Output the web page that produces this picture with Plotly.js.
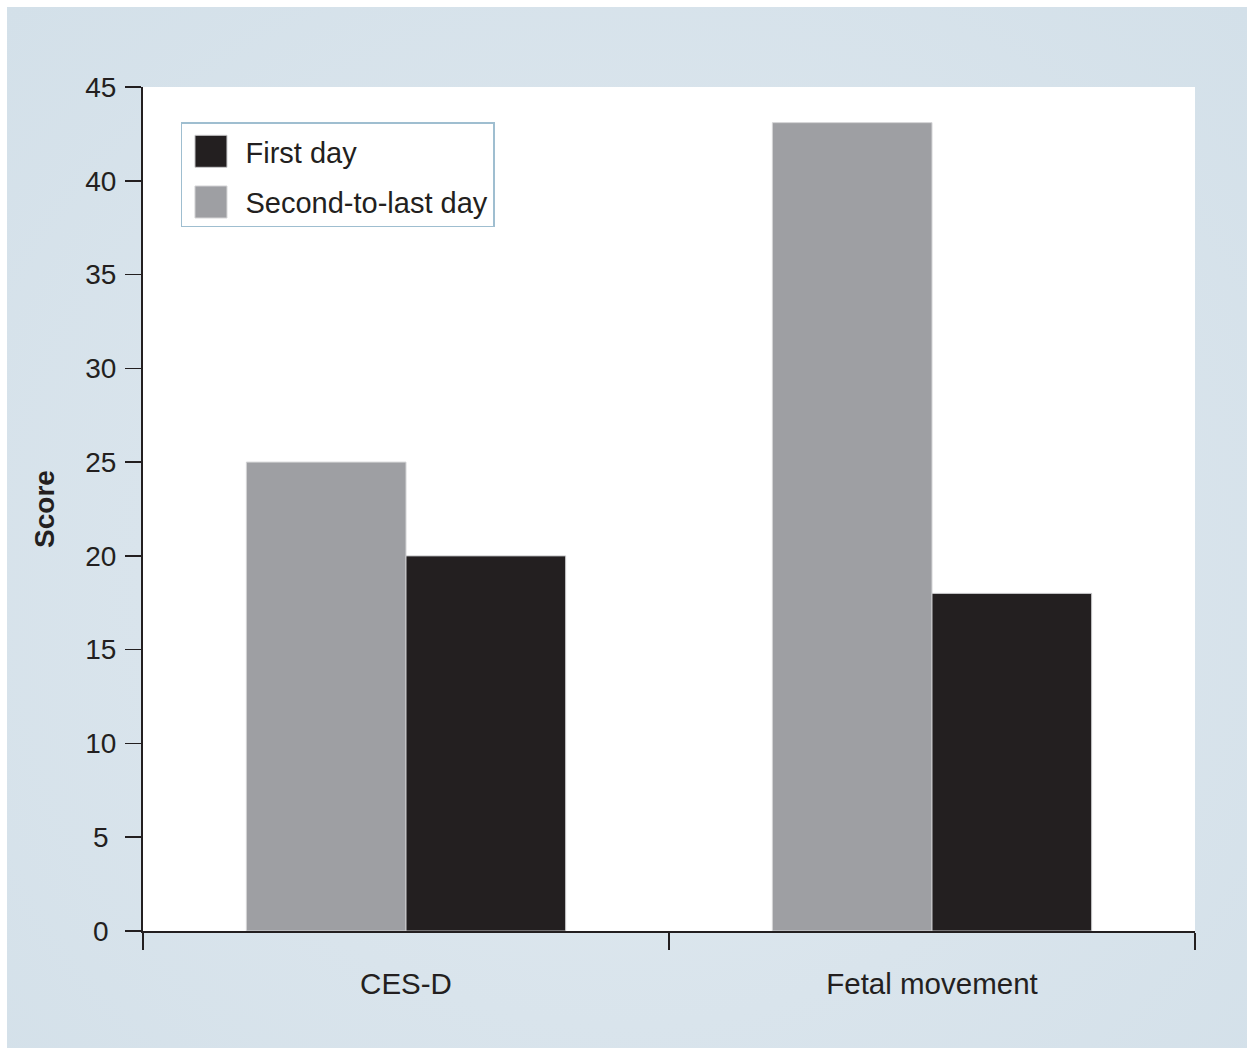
<!DOCTYPE html>
<html>
<head>
<meta charset="utf-8">
<script src="https://cdn.plot.ly/plotly-3.0.1.min.js"></script>
<style>
  html, body { margin: 0; padding: 0; background: #ffffff; }
  #chart {
    position: absolute; left: 7px; top: 7px; width: 1240px; height: 1041px;
    background: radial-gradient(ellipse at 50% 55%, #e1eaf0 0%, #d9e4ec 55%, #d3e0e9 100%);
  }
</style>
</head>
<body>
<div id="chart"></div>
<script>
const categories = ["CES-D", "Fetal movement"];
const seriesNames = ["Second-to-last day", "First day"];
const secondToLastDay = [25, 43.1];
const firstDay = [20, 18];
const yTicks = [0, 5, 10, 15, 20, 25, 30, 35, 40, 45];
const yTickText = ["0\u2008", "5\u2008", "10", "15", "20", "25", "30", "35", "40", "45"];

const ink = "#231f20";
const grayBar = "#9e9fa3";

const traces = [
  {
    type: "bar", name: seriesNames[0], x: categories, y: secondToLastDay,
    marker: { color: grayBar, line: { color: "#d4d4d6", width: 1 } },
    legendgroup: "b", legendrank: 2, hoverinfo: "x+y+name"
  },
  {
    type: "bar", name: seriesNames[1], x: categories, y: firstDay,
    marker: { color: ink, line: { color: "#c8c8ca", width: 1 } },
    legendgroup: "a", legendrank: 1, hoverinfo: "x+y+name"
  }
];

const layout = {
  width: 1240, height: 1041,
  margin: { l: 136, r: 52, t: 80, b: 117, pad: 0 },
  paper_bgcolor: "rgba(0,0,0,0)",
  plot_bgcolor: "#ffffff",
  font: { family: "Liberation Sans, Arial, Helvetica, sans-serif", color: ink },
  barmode: "group",
  bargap: 0.393,
  bargroupgap: 0,
  showlegend: true,
  legend: {
    x: 0.0361, y: 0.958, xanchor: "left", yanchor: "top",
    bgcolor: "#ffffff", bordercolor: "#9fbed0", borderwidth: 1.5,
    font: { size: 29, color: ink },
    traceorder: "grouped", tracegroupgap: 10,
    itemwidth: 53
  },
  xaxis: {
    type: "category",
    tickson: "boundaries",
    ticks: "outside", ticklen: 17, tickwidth: 1.5, tickcolor: ink,
    showline: true, linecolor: ink, linewidth: 2,
    showgrid: false, zeroline: false,
    tickfont: { size: 29.5, color: ink },
    ticklabelstandoff: 26
  },
  yaxis: {
    range: [0, 45], tickvals: yTicks, ticktext: yTickText,
    ticks: "outside", ticklen: 16, tickwidth: 1.5, tickcolor: ink,
    showline: true, linecolor: ink, linewidth: 2,
    showgrid: false, zeroline: false,
    tickfont: { size: 28, color: ink },
    ticklabelstandoff: 3,
    title: { text: "<b>Score</b>", font: { size: 28, color: ink }, standoff: 22 }
  }
};

Plotly.newPlot("chart", traces, layout, { displayModeBar: false, staticPlot: true }).then(function (gd) {
  // enlarge legend swatches to match the reference's large square keys
  document.querySelectorAll(".legend .legendpoints path").forEach(function (p) {
    p.setAttribute("d", "M13,18H-19V-14H13Z");
  });
  document.querySelectorAll(".legend .legendtext").forEach(function (t) {
    t.setAttribute("y", String((parseFloat(t.getAttribute("y")) || 0) + 2));
  });
});
</script>
</body>
</html>
